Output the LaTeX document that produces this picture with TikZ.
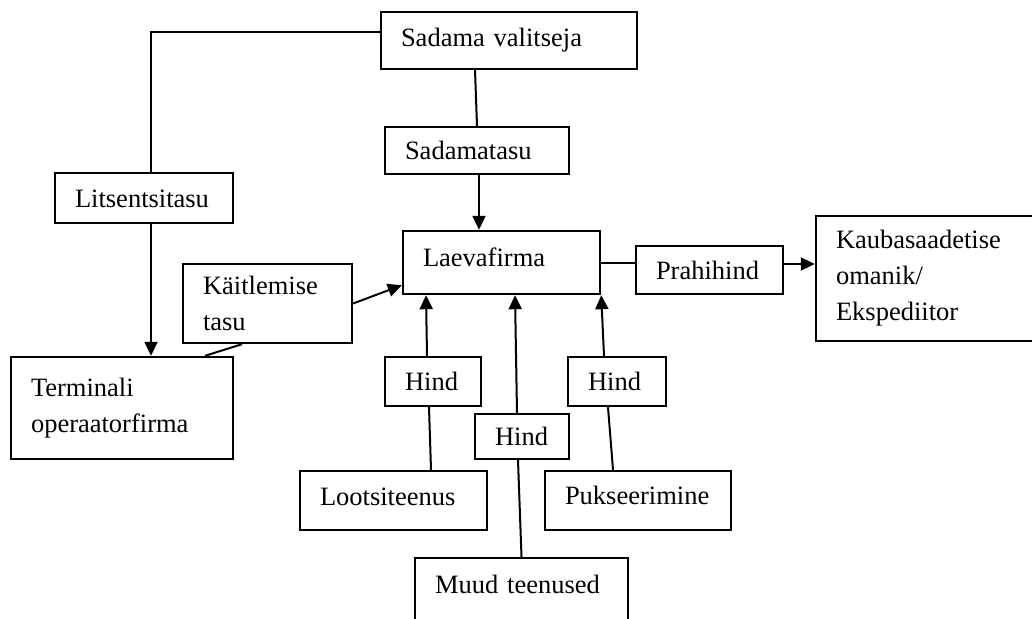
\documentclass[tikz,border=0pt]{standalone}
\usepackage{fontspec}
\setmainfont{Liberation Serif}
\usetikzlibrary{arrows.meta}
\begin{document}
\begin{tikzpicture}[x=1pt,y=-1pt,
  box/.style={draw, line width=2.4pt, rectangle, inner xsep=20pt, inner ysep=0pt,
    align=left, font=\fontsize{26.5}{36}\selectfont},
  one/.style={text height=18pt, text depth=#1},
  conn/.style={line width=2pt},
  conarr/.style={conn, -{Triangle[length=14pt,width=13pt]}}
]
\useasboundingbox (0,0) rectangle (1032,618);
\clip (0,0) rectangle (1032,618);

\node[box, one=7pt, minimum width=256pt, minimum height=57pt, text width=216pt] (sv) at (509,40.5) {Sadama valitseja};
\node[box, one=0pt, minimum width=184pt, minimum height=47pt, text width=144pt] (st) at (477,150.5) {Sadamatasu};
\node[box, one=0pt, minimum width=178pt, minimum height=50pt, text width=138pt] (lit) at (144,198) {Litsentsitasu};
\node[box, one=11pt, minimum width=197pt, minimum height=63pt, text width=157pt] (lf) at (501.5,262.5) {Laevafirma};
\node[box, minimum width=169pt, minimum height=79pt, text width=129pt] (kt) at (267.5,303.5) {Käitlemise\\tasu};
\node[box, one=0pt, minimum width=147pt, minimum height=48pt, text width=107pt] (ph) at (709.5,270) {Prahihind};
\node[box, minimum width=234pt, minimum height=125pt, text width=194pt] (kb) at (933,278.5) {Kaubasaadetise\\omanik/\\Ekspediitor};
\node[box, minimum width=222pt, minimum height=102pt, text width=182pt] (term) at (122,408) {Terminali\\operaatorfirma};
\node[box, one=0pt, minimum width=96pt, minimum height=49pt, text width=56pt] (hL) at (433,381.5) {Hind};
\node[box, one=0pt, minimum width=94pt, minimum height=45pt, text width=54pt] (hM) at (522,436.5) {Hind};
\node[box, one=0pt, minimum width=98pt, minimum height=49pt, text width=58pt] (hR) at (617,381.5) {Hind};
\node[box, one=9pt, minimum width=187pt, minimum height=59pt, text width=147pt] (lo) at (393.5,500.5) {Lootsiteenus};
\node[box, one=11pt, minimum width=186pt, minimum height=59pt, text width=146pt] (pu) at (638,500.5) {Pukseerimine};
\node[box, one=40pt, minimum width=213pt, minimum height=92pt, text width=173pt] (mu) at (521.5,604) {Muud teenused};

\draw[conn] ([yshift=8.5pt]sv.west) -| ([xshift=7pt]lit.north);
\draw[conarr] ([xshift=7pt]lit.south) -- ([xshift=7pt]lit.south |- term.north);
\draw[conn] ([xshift=-34pt]sv.south) -- (st.north);
\draw[conarr] ([xshift=2pt]st.south) -- ([xshift=2pt]st.south |- lf.north);
\draw[conarr] (kt.east) -- ([yshift=10pt]lf.south west);
\draw[conn] ([xshift=-25.5pt]kt.south) -- ([xshift=83pt]term.north);
\draw[conn] (lf.east) -- (lf.east -| ph.west);
\draw[conarr] ([yshift=6pt]ph.east) -- ([yshift=6pt]ph.east -| kb.west);
\draw[conarr] ([xshift=-6pt]hL.north) -- ([xshift=-7pt]hL.north |- lf.south);
\draw[conn] ([xshift=37.5pt]lo.north) -- ([xshift=-4pt]hL.south);
\draw[conarr] ([xshift=-5pt]hM.north) -- ([xshift=-7pt]hM.north |- lf.south);
\draw[conn] (mu.north) -- ([xshift=-4pt]hM.south);
\draw[conarr] ([xshift=-13pt]hR.north) -- (lf.south east);
\draw[conn] ([xshift=-25pt]pu.north) -- ([xshift=-9pt]hR.south);
\end{tikzpicture}
\end{document}
